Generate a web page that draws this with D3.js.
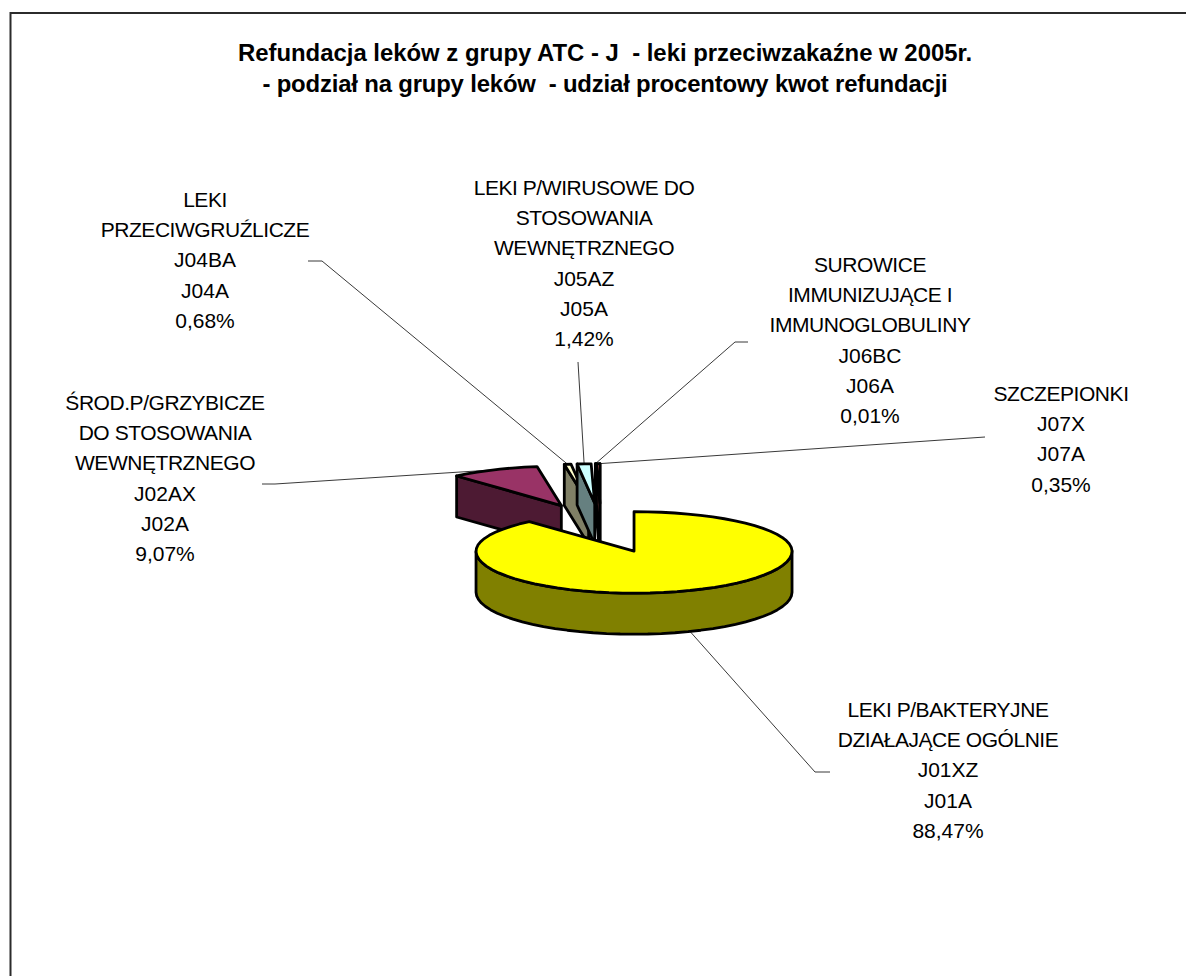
<!DOCTYPE html>
<html>
<head>
<meta charset="utf-8">
<script src="https://cdn.jsdelivr.net/npm/d3@7"></script>
<style>
html, body { margin: 0; padding: 0; background: #fff; overflow: hidden; }
text { font-family: "Liberation Sans", Arial, sans-serif; fill: #000; }
</style>
</head>
<body>
<div class="pie3d"></div>
<script>
// data
var titleLines = [
    "Refundacja leków z grupy ATC - J  - leki przeciwzakaźne w 2005r.",
    "- podział na grupy leków  - udział procentowy kwot refundacji"
];
var names = [
    ["LEKI P/BAKTERYJNE", "DZIAŁAJĄCE OGÓLNIE"],
    ["ŚROD.P/GRZYBICZE", "DO STOSOWANIA", "WEWNĘTRZNEGO"],
    ["LEKI", "PRZECIWGRUŹLICZE"],
    ["LEKI P/WIRUSOWE DO", "STOSOWANIA", "WEWNĘTRZNEGO"],
    ["SUROWICE", "IMMUNIZUJĄCE I", "IMMUNOGLOBULINY"],
    ["SZCZEPIONKI"]
];
var subgroups = ["J01XZ", "J02AX", "J04BA", "J05AZ", "J06BC", "J07X"];
var groups = ["J01A", "J02A", "J04A", "J05A", "J06A", "J07A"];
var values = [88.47, 9.07, 0.68, 1.42, 0.01, 0.35];

// styling
var topColors = ["#ffff00", "#993366", "#ffffcc", "#ccffff", "#660066", "#ff8080"];
var sideColors = ["#808000", "#4d1a33", "#808066", "#668080", "#330033", "#804040"];

// label layout: centre x, first baseline, leader elbow points
var labelX = [948, 165, 205, 584, 870, 1061];
var labelY = [717, 410, 207, 195, 272, 401];
var leaderStart = [[830, 772], [262, 484], [308, 261], [578, 362], [748, 342], [985, 437]];
var leaderElbow = [[815, 772], [275, 484], [322, 261], null, [735, 342], null];

var svgx = 1186;
var svgy = 976;
var center = {x: 601, y: 528};
var rx = 158;
var ry = 42;
var ryBack = 39.5;      // the far half looks a bit shorter
var depth = 41;
var explode = 0.59;
var lineGap = 30.2;

var svg = d3.select(".pie3d").append("svg")
    .attr("width", svgx)
    .attr("height", svgy)
    .style("display", "block");

// chart frame runs off the right and bottom of the page
svg.append("path")
    .attr("d", "M10.5," + (svgy + 5) + "V13H" + (svgx + 5))
    .attr("fill", "none")
    .attr("stroke", "#2b2b2b")
    .attr("stroke-width", 2);

var title = svg.append("g");
title.selectAll("text")
    .data(titleLines)
    .enter()
    .append("text")
    .attr("x", 605)
    .attr("y", function(d, i) { return 61 + i * 31; })
    .attr("text-anchor", "middle")
    .attr("font-size", "23.9px")
    .attr("font-weight", "bold")
    .attr("letter-spacing", function(d, i) { return i == 1 ? "-0.17px" : "0px"; })
    .style("white-space", "pre")
    .text(function(d) { return d; });

var pie = d3.pie().sort(null).startAngle(0).endAngle(2 * Math.PI);
var slices = pie(values);

var line = d3.line();

// flat projection of the pie, angle measured clockwise from 12 o'clock
function offset(d) {
    var mid = (d.startAngle + d.endAngle) / 2;
    return {x: center.x + explode * rx * Math.sin(mid), y: center.y - explode * ry * Math.cos(mid)};
}
function rim(d, a) {
    var o = offset(d);
    var c = Math.cos(a);
    return [o.x + rx * Math.sin(a), o.y - (c > 0 ? ryBack : ry) * c];
}
function arcPoints(d, a0, a1) {
    var step = 5 * Math.PI / 180;
    var n = Math.max(1, Math.ceil((a1 - a0) / step));
    return d3.range(n + 1).map(function(i) { return rim(d, a0 + (a1 - a0) * i / n); });
}
function down(p) { return [p[0], p[1] + depth]; }

// leaders go under the slices
var leaders = svg.append("g");
slices.forEach(function(d, i) {
    var mid = (d.startAngle + d.endAngle) / 2;
    var end = rim(d, mid);
    if (Math.cos(mid) < 0) end = down(end);
    var pts = [leaderStart[i]];
    if (leaderElbow[i]) pts.push(leaderElbow[i]);
    pts.push(end);
    leaders.append("path")
        .attr("d", line(pts))
        .attr("fill", "none")
        .attr("stroke", "#222")
        .attr("stroke-width", 0.9);
});

function drawFace(g, pts, color) {
    g.append("path")
        .attr("d", line(pts) + "Z")
        .attr("fill", color)
        .attr("stroke", "#000")
        .attr("stroke-width", 2.8)
        .attr("stroke-linejoin", "round");
}

// painter's order: back slices first, the big front slice last
var order = d3.range(1, slices.length).concat([0]);
var pieG = svg.append("g");
order.forEach(function(i) {
    var d = slices[i];
    var o = offset(d);
    var apex = [o.x, o.y];
    var g = pieG.append("g");

    // radial walls that face the viewer
    if (Math.sin(d.startAngle) < 0) {
        var s = rim(d, d.startAngle);
        drawFace(g, [apex, s, down(s), down(apex)], sideColors[i]);
    }
    if (Math.sin(d.endAngle) > 0) {
        var e = rim(d, d.endAngle);
        drawFace(g, [apex, e, down(e), down(apex)], sideColors[i]);
    }
    // outer wall, front half only
    var a0 = Math.max(d.startAngle, Math.PI / 2);
    var a1 = Math.min(d.endAngle, 3 * Math.PI / 2);
    if (a1 > a0) {
        var top = arcPoints(d, a0, a1);
        drawFace(g, top.concat(top.map(down).reverse()), sideColors[i]);
    }
    // top face
    drawFace(g, [apex].concat(arcPoints(d, d.startAngle, d.endAngle)), topColors[i]);
});

// data labels, the capitals are set tighter than the codes
var labels = svg.append("g");
slices.forEach(function(d, i) {
    var nameCount = names[i].length;
    var rows = names[i].concat([subgroups[i], groups[i], values[i].toFixed(2).replace(".", ",") + "%"]);
    labels.append("g").selectAll("text")
        .data(rows)
        .enter()
        .append("text")
        .attr("x", labelX[i])
        .attr("y", function(r, k) { return labelY[i] + k * lineGap; })
        .attr("text-anchor", "middle")
        .attr("font-size", "21px")
        .attr("letter-spacing", function(r, k) { return k < nameCount ? "-0.45px" : "0px"; })
        .text(function(r) { return r; });
});
</script>
</body>
</html>
